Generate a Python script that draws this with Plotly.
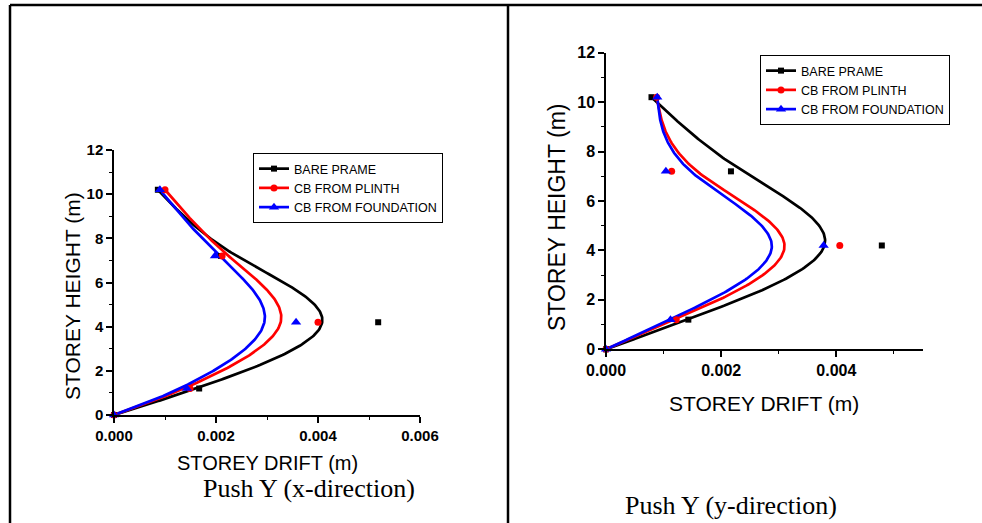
import numpy as np
import plotly.graph_objects as go

W, H = 982, 523

# ---------------- data ----------------
heights = [0.0, 1.2, 4.2, 7.2, 10.2]
series_names = ["BARE PRAME", "CB FROM PLINTH", "CB FROM FOUNDATION"]

# Push Y (x-direction)
x_bare = [0.0, 0.00167, 0.00518, 0.00210, 0.00086]
x_plinth = [0.0, 0.00149, 0.00400, 0.00212, 0.00100]
x_found = [0.0, 0.00143, 0.00357, 0.00198, 0.00090]

# Push Y (y-direction)
y_bare = [0.0, 0.00143, 0.00479, 0.00217, 0.00079]
y_plinth = [0.0, 0.00122, 0.00406, 0.00114, 0.00088]
y_found = [0.0, 0.00112, 0.00378, 0.00104, 0.00089]

x_ticks_left = [0.000, 0.002, 0.004, 0.006]
x_ticks_right = [0.000, 0.002, 0.004]
y_ticks = [0, 2, 4, 6, 8, 10, 12]

colors = ["#000000", "#ff0000", "#0000ff"]
symbols = ["square", "circle", "triangle-up"]
msizes = [6, 7, 9]


def bspline(xs, ys, k=60):
    """Uniform cubic B-spline connection (Origin 'B-Spline' line) through control points."""
    P = np.column_stack([xs, ys])
    P = np.vstack([P[0], P[0], P, P[-1], P[-1]])
    out = []
    t = np.linspace(0, 1, k)
    b0 = (1 - t) ** 3 / 6
    b1 = (3 * t ** 3 - 6 * t ** 2 + 4) / 6
    b2 = (-3 * t ** 3 + 3 * t ** 2 + 3 * t + 1) / 6
    b3 = t ** 3 / 6
    for i in range(len(P) - 3):
        seg = (b0[:, None] * P[i] + b1[:, None] * P[i + 1]
               + b2[:, None] * P[i + 2] + b3[:, None] * P[i + 3])
        out.append(seg)
    c = np.vstack(out)
    return c[:, 0], c[:, 1]


def px_x(p):
    return p / W


def px_y(p):
    return (H - p) / H


fig = go.Figure()

panels = [
    ("x", "y", "legend", [x_bare, x_plinth, x_found]),
    ("x2", "y2", "legend2", [y_bare, y_plinth, y_found]),
]

for xa, ya, lg, data in panels:
    for i, xs in enumerate(data):
        cx, cy = bspline(xs, heights)
        fig.add_trace(go.Scatter(x=cx, y=cy, mode="lines", xaxis=xa, yaxis=ya,
                                 line=dict(color=colors[i], width=2.7),
                                 showlegend=False, cliponaxis=False, hoverinfo="skip"))
    for i, xs in enumerate(data):
        fig.add_trace(go.Scatter(x=xs, y=heights, mode="markers", xaxis=xa, yaxis=ya,
                                 marker=dict(color=colors[i], symbol=symbols[i], size=msizes[i]),
                                 showlegend=False, cliponaxis=False))
    for i in range(3):
        fig.add_trace(go.Scatter(x=[None], y=[None], mode="lines+markers", xaxis=xa, yaxis=ya,
                                 name=series_names[i], legend=lg,
                                 line=dict(color=colors[i], width=2.7),
                                 marker=dict(color=colors[i], symbol=symbols[i], size=msizes[i])))

base_font = "Liberation Sans, Arial, sans-serif"


def xax(domain, rng, ticks, fsize):
    return dict(domain=domain, range=rng, tickvals=ticks, tickformat=".3f",
                showline=True, linecolor="black", linewidth=1.5, automargin=False,
                ticks="outside", ticklen=6, tickwidth=1.5, tickcolor="black",
                minor=dict(dtick=0.001, ticks="outside", ticklen=3, tickwidth=1.2, tickcolor="black"),
                showgrid=False, zeroline=False,
                tickfont=dict(family=base_font, size=fsize, color="black", weight="bold"))


def yax(domain, fsize):
    return dict(domain=domain, range=[0, 12], tickvals=y_ticks,
                showline=True, linecolor="black", linewidth=1.5, automargin=False,
                ticks="outside", ticklen=6, tickwidth=1.5, tickcolor="black",
                minor=dict(dtick=1, ticks="outside", ticklen=3, tickwidth=1.2, tickcolor="black"),
                showgrid=False, zeroline=False,
                tickfont=dict(family=base_font, size=fsize, color="black", weight="bold"))


xa1 = xax([px_x(114), px_x(420)], [0, 0.006], x_ticks_left, 15)
xa1["anchor"] = "y"
ya1 = yax([px_y(415), px_y(150)], 15)
ya1["anchor"] = "x"
xa2 = xax([px_x(606), px_x(922.7)], [0, 0.0055], x_ticks_right, 16)
xa2["anchor"] = "y2"
ya2 = yax([px_y(349.3), px_y(52.7)], 16)
ya2["anchor"] = "x2"

legend_common = dict(bgcolor="white", bordercolor="black", borderwidth=1,
                     xanchor="left", yanchor="top", tracegroupgap=0,
                     font=dict(family=base_font, size=12.5, color="black"))

fig.update_layout(
    width=W, height=H, autosize=False,
    margin=dict(l=0, r=0, t=0, b=0, pad=0, autoexpand=False),
    paper_bgcolor="white", plot_bgcolor="white",
    xaxis=xa1, yaxis=ya1, xaxis2=xa2, yaxis2=ya2,
    legend=dict(x=px_x(253), y=px_y(153), **legend_common),
    legend2=dict(x=px_x(760), y=px_y(55), **legend_common),
)

ann = [
    dict(text="STOREY HEIGHT (m)", x=px_x(72), y=px_y(296), textangle=-90, size=21, fam=base_font),
    dict(text="STOREY DRIFT (m)", x=px_x(267), y=px_y(463), textangle=0, size=20, fam=base_font),
    dict(text="Push Y (x-direction)", x=px_x(309), y=px_y(488), textangle=0, size=26,
         fam="Liberation Serif, Times New Roman, serif"),
    dict(text="STOREY HEIGHT (m)", x=px_x(557), y=px_y(218), textangle=-90, size=23, fam=base_font),
    dict(text="STOREY DRIFT (m)", x=px_x(764), y=px_y(403), textangle=0, size=21, fam=base_font),
    dict(text="Push Y (y-direction)", x=px_x(731), y=px_y(505), textangle=0, size=26,
         fam="Liberation Serif, Times New Roman, serif"),
]
for a in ann:
    fig.add_annotation(text=a["text"], x=a["x"], y=a["y"], xref="paper", yref="paper",
                       xanchor="center", yanchor="middle", textangle=a["textangle"],
                       showarrow=False, font=dict(family=a["fam"], size=a["size"], color="black"))

# table frame around the two panels
frame = dict(color="black", width=2.5)
fig.add_shape(type="line", xref="paper", yref="paper", x0=px_x(10), x1=1, y0=px_y(5), y1=px_y(5), line=frame)
fig.add_shape(type="line", xref="paper", yref="paper", x0=px_x(10), x1=px_x(10), y0=0, y1=px_y(5), line=frame)
fig.add_shape(type="line", xref="paper", yref="paper", x0=px_x(508), x1=px_x(508), y0=0, y1=px_y(5), line=frame)

fig.write_html("out.html", config={"displayModeBar": False},
               post_script="document.body.style.margin='0px';document.body.style.overflow='hidden';")
